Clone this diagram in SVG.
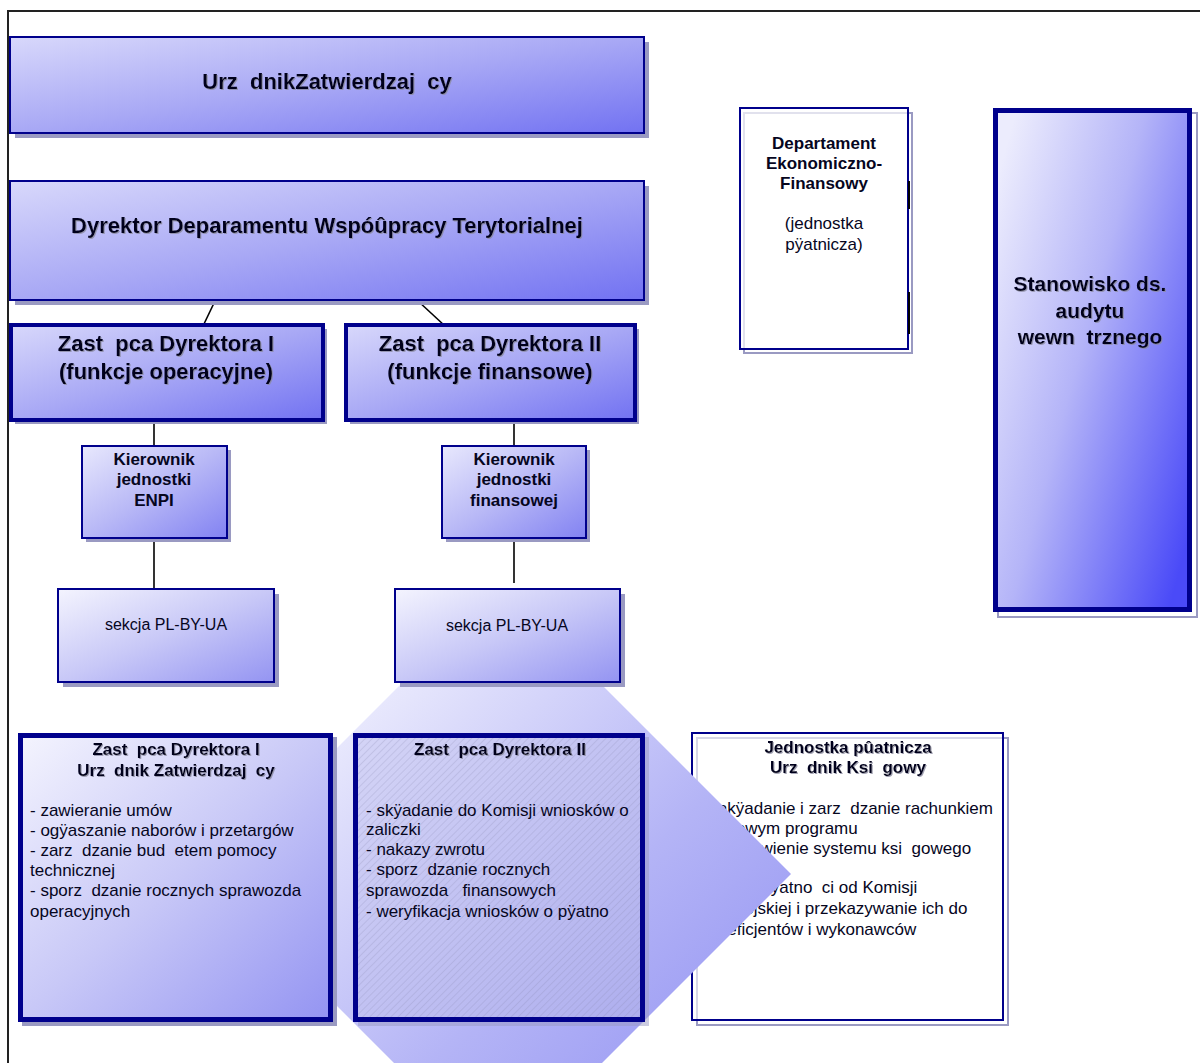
<svg xmlns="http://www.w3.org/2000/svg" width="1200" height="1063" viewBox="0 0 1200 1063">
<defs>
<style>
text{font-family:"Liberation Sans",Arial,sans-serif;fill:#06061e;white-space:pre}
.b{font-weight:bold}
.t22{font-size:22px}
.t21{font-size:21px}
.t17{font-size:17px}
.t16{font-size:16px}
.mid{text-anchor:middle}
.sh{fill:#9a9ac2}
.bd{stroke:#00008c}
.conn line{stroke:#000;stroke-width:1.6}
</style>
<linearGradient id="gTop" x1="0" y1="0" x2="1" y2="1">
<stop offset="0" stop-color="#d8d8fb"/><stop offset="0.5" stop-color="#a8a8f5"/><stop offset="1" stop-color="#7272f2"/>
</linearGradient>
<linearGradient id="gMid" x1="0" y1="0" x2="1" y2="1">
<stop offset="0" stop-color="#e8e8fd"/><stop offset="0.5" stop-color="#b8b8f6"/><stop offset="1" stop-color="#8282f2"/>
</linearGradient>
<linearGradient id="gLight" x1="0" y1="0" x2="1" y2="1">
<stop offset="0" stop-color="#f4f4fe"/><stop offset="0.5" stop-color="#c8c8f7"/><stop offset="1" stop-color="#9494f2"/>
</linearGradient>
<linearGradient id="gAud" x1="0" y1="0.15" x2="1" y2="0.85">
<stop offset="0" stop-color="#ececfd"/><stop offset="0.45" stop-color="#b4b4f8"/><stop offset="1" stop-color="#4a4af8"/>
</linearGradient>
<linearGradient id="gDia" x1="0" y1="0" x2="1" y2="1">
<stop offset="0.15" stop-color="#f4f4fe"/><stop offset="0.6" stop-color="#b4b4f6"/><stop offset="1" stop-color="#8a8af2"/>
</linearGradient>
<linearGradient id="gHat" x1="0" y1="0" x2="1" y2="1">
<stop offset="0" stop-color="#d4d4f6"/><stop offset="1" stop-color="#aeaeee"/>
</linearGradient>
<pattern id="hatch" width="5" height="5" patternUnits="userSpaceOnUse" patternTransform="rotate(45)">
<line x1="0" y1="0" x2="0" y2="5" stroke="#8080a8" stroke-width="0.7" stroke-opacity="0.6"/>
</pattern>
<filter id="ts" x="-5%" y="-20%" width="110%" height="140%">
<feDropShadow dx="1" dy="1" stdDeviation="0.4" flood-color="#8a8aa0" flood-opacity="0.8"/>
</filter>
</defs>

<rect width="1200" height="1063" fill="#ffffff"/>
<g id="frame" fill="none" stroke="#222" stroke-width="2">
<polyline points="1200,11 8,11 8,1063"/>
</g>

<g id="connectors" class="conn">
<line x1="215" y1="301" x2="203" y2="326"/>
<line x1="418" y1="301" x2="445" y2="326"/>
<line x1="154" y1="421" x2="154" y2="446"/>
<line x1="514" y1="421" x2="514" y2="446"/>
<line x1="154" y1="541" x2="154" y2="589"/>
<line x1="514" y1="541" x2="514" y2="583"/>
</g>

<g id="n-urzednik">
<rect class="sh" x="15" y="42" width="634" height="96"/>
<rect x="10" y="37" width="634" height="96" fill="url(#gTop)" class="bd" stroke-width="2"/>
<text class="b t22 mid" x="327" y="89" filter="url(#ts)" xml:space="preserve">Urz  dnikZatwierdzaj  cy</text>
</g>

<g id="n-dyrektor">
<rect class="sh" x="15" y="186" width="634" height="119"/>
<rect x="10" y="181" width="634" height="119" fill="url(#gTop)" class="bd" stroke-width="2"/>
<text class="b t22 mid" x="327" y="233" filter="url(#ts)">Dyrektor Deparamentu Wspóûpracy Terytorialnej</text>
</g>

<g id="n-zast1">
<rect class="sh" x="15" y="329" width="312" height="95"/>
<rect x="11" y="325" width="312" height="95" fill="url(#gTop)" class="bd" stroke-width="4"/>
<text class="b t22 mid" x="166" y="351" filter="url(#ts)" xml:space="preserve">Zast  pca Dyrektora I</text>
<text class="b t22 mid" x="166" y="379" filter="url(#ts)">(funkcje operacyjne)</text>
</g>

<g id="n-zast2">
<rect class="sh" x="350" y="329" width="289" height="95"/>
<rect x="346" y="325" width="289" height="95" fill="url(#gTop)" class="bd" stroke-width="4"/>
<text class="b t22 mid" x="490" y="351" filter="url(#ts)" xml:space="preserve">Zast  pca Dyrektora II</text>
<text class="b t22 mid" x="490" y="379" filter="url(#ts)">(funkcje finansowe)</text>
</g>

<g id="n-kier-enpi">
<rect class="sh" x="86" y="450" width="145" height="92"/>
<rect x="82" y="446" width="145" height="92" fill="url(#gMid)" class="bd" stroke-width="2"/>
<text class="b t17 mid" x="154" y="465">Kierownik</text>
<text class="b t17 mid" x="154" y="485">jednostki</text>
<text class="b t17 mid" x="154" y="506">ENPI</text>
</g>

<g id="n-kier-fin">
<rect class="sh" x="446" y="450" width="144" height="92"/>
<rect x="442" y="446" width="144" height="92" fill="url(#gMid)" class="bd" stroke-width="2"/>
<text class="b t17 mid" x="514" y="465">Kierownik</text>
<text class="b t17 mid" x="514" y="485">jednostki</text>
<text class="b t17 mid" x="514" y="506">finansowej</text>
</g>

<g id="n-jednostka">
<rect x="697" y="738" width="311" height="287" fill="none" stroke="#9a9ac2" stroke-width="2"/>
<rect x="692" y="733" width="311" height="287" fill="#ffffff" fill-opacity="0.6" class="bd" stroke-width="2"/>
<text class="b t17 mid" x="848" y="753" filter="url(#ts)">Jednostka pûatnicza</text>
<text class="b t17 mid" x="848" y="773" filter="url(#ts)" xml:space="preserve">Urz  dnik Ksi  gowy</text>
<text class="t17" x="699" y="814" xml:space="preserve">- zakÿadanie i zarz  dzanie rachunkiem</text>
<text class="t17" x="699" y="834">bankowym programu</text>
<text class="t17" x="699" y="854" xml:space="preserve">- ustanowienie systemu ksi  gowego</text>
<text class="t17" x="699" y="893" xml:space="preserve">- odbiór pÿatno  ci od Komisji</text>
<text class="t17" x="699" y="914">Europejskiej i przekazywanie ich do</text>
<text class="t17" x="699" y="935">beneficjentów i wykonawców</text>
</g>

<g id="diamond">
<polygon points="485,600 517,600 791,874 498,1167 208,877" fill="url(#gDia)"/>
</g>

<g id="n-sekcja1">
<rect class="sh" x="63" y="594" width="216" height="93"/>
<rect x="58" y="589" width="216" height="93" fill="url(#gLight)" class="bd" stroke-width="2"/>
<text class="t16 mid" x="166" y="630">sekcja PL-BY-UA</text>
</g>

<g id="n-sekcja2">
<rect class="sh" x="400" y="594" width="225" height="93"/>
<rect x="395" y="589" width="225" height="93" fill="url(#gLight)" class="bd" stroke-width="2"/>
<text class="t16 mid" x="507" y="631">sekcja PL-BY-UA</text>
</g>

<g id="n-bz1">
<rect class="sh" x="22" y="737" width="315" height="289"/>
<rect x="20.5" y="735.5" width="310" height="284" fill="url(#gLight)" class="bd" stroke-width="5"/>
<text class="b t17 mid" x="176" y="755" filter="url(#ts)" xml:space="preserve">Zast  pca Dyrektora I</text>
<text class="b t17 mid" x="176" y="776" filter="url(#ts)" xml:space="preserve">Urz  dnik Zatwierdzaj  cy</text>
<text class="t17" x="30" y="816">- zawieranie umów</text>
<text class="t17" x="30" y="836">- ogÿaszanie naborów i przetargów</text>
<text class="t17" x="30" y="856" xml:space="preserve">- zarz  dzanie bud  etem pomocy</text>
<text class="t17" x="30" y="876">technicznej</text>
<text class="t17" x="30" y="896" xml:space="preserve">- sporz  dzanie rocznych sprawozda</text>
<text class="t17" x="30" y="917">operacyjnych</text>
</g>

<g id="n-bz2">
<rect class="sh" x="358" y="737" width="291" height="289" fill-opacity="0.5"/>
<rect x="355.5" y="735.5" width="287" height="284" fill="url(#gHat)"/>
<rect x="355.5" y="735.5" width="287" height="284" fill="url(#hatch)"/>
<rect x="355.5" y="735.5" width="287" height="284" fill="none" class="bd" stroke-width="5"/>
<text class="b t17 mid" x="500" y="755" filter="url(#ts)" xml:space="preserve">Zast  pca Dyrektora II</text>
<text class="t17" x="366" y="816">- skÿadanie do Komisji wniosków o</text>
<text class="t17" x="366" y="835">zaliczki</text>
<text class="t17" x="366" y="855">- nakazy zwrotu</text>
<text class="t17" x="366" y="875" xml:space="preserve">- sporz  dzanie rocznych</text>
<text class="t17" x="366" y="896" xml:space="preserve">sprawozda   finansowych</text>
<text class="t17" x="366" y="917">- weryfikacja wniosków o pÿatno</text>
</g>

<g id="n-departament">
<rect x="744" y="113" width="168" height="240" fill="none" stroke="#9a9ac2" stroke-width="2"/>
<rect x="740" y="108" width="168" height="241" fill="#ffffff" fill-opacity="0.7" class="bd" stroke-width="2"/>
<line x1="909" y1="181" x2="909" y2="209" stroke="#000" stroke-width="2"/>
<line x1="909" y1="292" x2="909" y2="334" stroke="#000" stroke-width="2"/>
<text class="b t17 mid" x="824" y="149">Departament</text>
<text class="b t17 mid" x="824" y="169">Ekonomiczno-</text>
<text class="b t17 mid" x="824" y="189">Finansowy</text>
<text class="t17 mid" x="824" y="229">(jednostka</text>
<text class="t17 mid" x="824" y="250">pÿatnicza)</text>
</g>

<g id="n-audyt">
<rect x="998" y="113" width="199" height="504" fill="none" stroke="#9a9ac2" stroke-width="2"/>
<rect x="995.5" y="110.5" width="194" height="499" fill="url(#gAud)" class="bd" stroke-width="5"/>
<text class="b t21 mid" x="1090" y="291" filter="url(#ts)">Stanowisko ds.</text>
<text class="b t21 mid" x="1090" y="318" filter="url(#ts)">audytu</text>
<text class="b t21 mid" x="1090" y="344" filter="url(#ts)" xml:space="preserve">wewn  trznego</text>
</g>
</svg>
